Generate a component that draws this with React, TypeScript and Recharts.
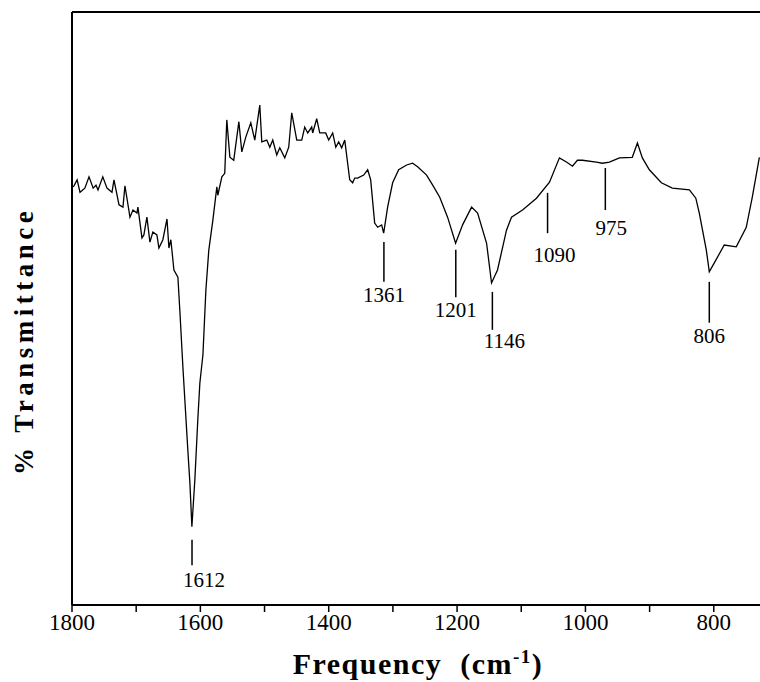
import { LineChart, Line, XAxis, YAxis, ReferenceLine } from "recharts";

// wavenumber (cm-1) and % transmittance
const wavenumbers = [
  1798, 1792, 1787.5, 1780, 1773.5, 1767, 1762.6, 1759.5, 1752, 1745.5, 1737.7, 1734.6, 1726.8, 1720.6,
  1717.5, 1709.7, 1705, 1698.8, 1697.3, 1691, 1688, 1683.3, 1678.6, 1674, 1667.7, 1664.6, 1658.4, 1652,
  1649, 1646, 1641.2, 1635, 1632, 1627.2, 1619.5, 1616.3, 1613.2, 1608.6, 1604, 1600.8, 1596, 1591.4,
  1586.8, 1580.5, 1574.3, 1572.8, 1566.5, 1562, 1558.8, 1554, 1548, 1540, 1535.4, 1529.2, 1521.4, 1515.2,
  1507.4, 1504.3, 1496.5, 1491.8, 1487.2, 1481, 1476.3, 1468.5, 1462.3, 1457.6, 1449.8, 1442, 1437.4,
  1432.7, 1426.5, 1425, 1418.7, 1414, 1404.7, 1400, 1393.8, 1389, 1384.4, 1379.8, 1375, 1367.3, 1362.7,
  1359.5, 1355, 1345.5, 1339.3, 1334.6, 1328.4, 1323.7, 1317.5, 1314.4, 1308.2, 1300.4, 1291, 1278.6,
  1269.3, 1261.5, 1247.5, 1238, 1227.2, 1214.8, 1202.3, 1191.4, 1177.4, 1168, 1154, 1146.3, 1137, 1123,
  1115.2, 1098, 1076.3, 1056, 1040.5, 1029.6, 1020.2, 1012.5, 1004.7, 983, 973.6, 962.7, 947, 927, 919,
  911.3, 900.4, 881.7, 864.6, 838, 828, 822.6, 811.7, 807, 799.2, 783.7, 765, 749.4, 740, 729,
];
const transmittance = [
  70.5, 71.7, 69.6, 70.3, 72.2, 70.3, 70.8, 70.0, 72.2, 70.3, 69.6, 71.7, 67.5, 67.1,
  70.7, 65.4, 66.6, 66.1, 67.1, 61.9, 62.4, 65.4, 61.2, 62.9, 62.4, 60.2, 61.6, 65.1,
  60.2, 61.6, 56.5, 55.3, 49.7, 40.1, 26.1, 20.6, 13.2, 21.1, 31.2, 37.4, 42.2, 53.1,
  59.9, 64.9, 70.5, 69.1, 72.2, 72.8, 81.8, 75.5, 75.0, 81.5, 76.4, 78.9, 81.3, 78.4,
  84.3, 78.1, 78.4, 77.2, 78.4, 75.9, 77.1, 75.4, 77.2, 83.0, 78.4, 78.4, 80.6,
  79.6, 80.6, 79.6, 82.0, 79.6, 79.6, 78.4, 79.6, 77.2, 78.1, 77.1, 78.4, 71.7, 71.2,
  72.0, 72.0, 72.5, 73.4, 71.7, 64.4, 63.7, 64.1, 62.7, 67.1, 71.2, 73.4, 74.2,
  74.5, 73.9, 72.5, 70.8, 68.8, 65.4, 61.0, 64.1, 67.1, 66.1, 61.0, 54.3, 56.5, 63.2,
  65.4, 66.6, 68.6, 71.3, 75.4, 74.7, 74.0, 75.0, 75.0, 74.7, 74.5, 74.7, 75.4, 75.5, 77.9,
  75.4, 73.4, 71.2, 70.3, 70.0, 68.6, 66.1, 59.9, 56.2, 57.7, 60.7, 60.4, 63.7, 68.8, 75.5,
];

const xTicks = [1800, 1700, 1600, 1500, 1400, 1300, 1200, 1100, 1000, 900, 800];

// peak markers: label text, where the tick is drawn, and its vertical extent
const peaks = [
  { label: "1612", w: 1613, top: 11.0, bottom: 6.7 },
  { label: "1361", w: 1314, top: 61.2, bottom: 54.5 },
  { label: "1201", w: 1202, top: 59.9, bottom: 51.9 },
  { label: "1146", w: 1145, top: 52.8, bottom: 46.4 },
  { label: "1090", w: 1059, top: 69.5, bottom: 62.7 },
  { label: "975", w: 969, top: 73.7, bottom: 66.6 },
  { label: "806", w: 807, top: 54.5, bottom: 47.6 },
];
const labelGap: Record<string, number> = { "1612": 7, "1090": 14, "975": 10, "1146": 3 };
const labelShift: Record<string, number> = { "1612": 12, "1146": 12, "1090": 7, "975": 6 };

const data = wavenumbers.map((w, i) => ({ w, t: transmittance[i] }));

const serif = "'Liberation Serif', 'Times New Roman', serif";

export default function App() {
  return (
    <div style={{ position: "absolute", left: 0, top: 0, background: "#fff" }}>
      <LineChart width={760} height={682} data={data} margin={{ top: 12, right: 0, left: 0, bottom: 0 }}>
        <XAxis
          dataKey="w"
          type="number"
          domain={[728, 1800]}
          reversed
          ticks={xTicks}
          interval={0}
          tickFormatter={(v: number) => (v % 200 === 0 ? String(v) : "")}
          tickSize={7}
          height={77}
          axisLine={{ stroke: "#000", strokeWidth: 2 }}
          tickLine={{ stroke: "#000", strokeWidth: 1.5 }}
          tick={{ fill: "#000", fontSize: 23, fontFamily: serif }}
          label={{
            content: () => (
              <text
                x={418}
                y={674}
                textAnchor="middle"
                fontFamily={serif}
                fontWeight="bold"
                fontSize={30}
                letterSpacing={1.5}
                fill="#000"
              >
                Frequency{"\u00a0\u00a0"}(cm<tspan dy={-11} fontSize={19}>-1</tspan>
                <tspan dy={11}>)</tspan>
              </text>
            ),
          }}
        />
        <YAxis
          type="number"
          domain={[0, 100]}
          width={72}
          tick={false}
          tickLine={false}
          axisLine={{ stroke: "#000", strokeWidth: 2 }}
          label={{
            content: () => (
              <text
                x={33}
                y={341}
                transform="rotate(-90 33 341)"
                textAnchor="middle"
                fontFamily={serif}
                fontWeight="bold"
                fontSize={27}
                letterSpacing={4.5}
                fill="#000"
              >
                % Transmittance
              </text>
            ),
          }}
        />
        <ReferenceLine y={100} stroke="#000" strokeWidth={2} />
        {peaks.map((p) => (
          <ReferenceLine
            key={p.label}
            segment={[
              { x: p.w, y: p.top },
              { x: p.w, y: p.bottom },
            ]}
            stroke="#000"
            strokeWidth={1.5}
            label={{
              value: p.label,
              position: "bottom",
              offset: labelGap[p.label] ?? 5,
              dx: labelShift[p.label] ?? 0,
              fill: "#000",
              fontSize: 21,
              fontFamily: serif,
            }}
          />
        ))}
        <Line
          type="linear"
          dataKey="t"
          stroke="#000"
          strokeWidth={1.3}
          dot={false}
          isAnimationActive={false}
        />
      </LineChart>
    </div>
  );
}
